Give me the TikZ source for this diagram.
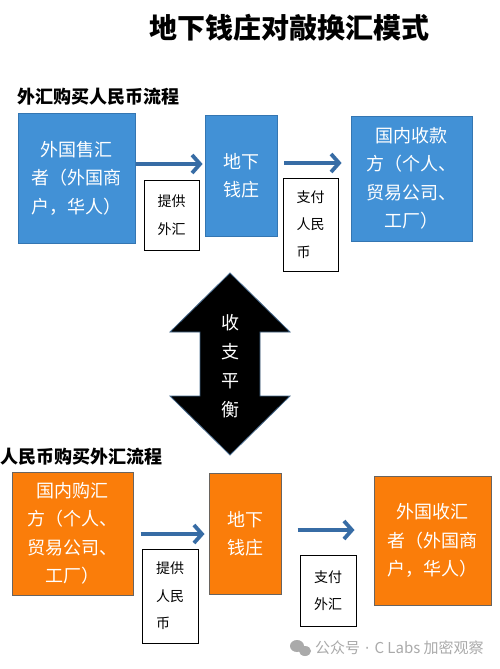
\documentclass[tikz,border=0pt]{standalone}
\usepackage{fontspec}
\setmainfont{Noto Sans CJK SC}
\newfontfamily\latinsans{DejaVu Sans}
\usetikzlibrary{arrows.meta}
\definecolor{boxblue}{RGB}{66,145,214}
\definecolor{blueedge}{RGB}{52,118,178}
\definecolor{boxorange}{RGB}{250,125,10}
\definecolor{orangeedge}{RGB}{105,100,95}
\definecolor{flowblue}{RGB}{55,108,165}
\definecolor{dbledge}{RGB}{70,105,140}
\definecolor{wmgray}{RGB}{170,170,170}
\begin{document}
\begin{tikzpicture}[x=1pt,y=1pt,
  boxtext/.style={align=center,inner sep=0pt,text=white,font=\fontsize{18}{28.5}\selectfont},
  bluebox/.style={boxtext,draw=blueedge,fill=boxblue,line width=0.8pt},
  orangebox/.style={boxtext,draw=orangeedge,fill=boxorange,line width=1pt},
  labelbox/.style={draw=black,fill=white,line width=1pt,align=left,inner sep=0pt,font=\fontsize{14}{27.5}\selectfont},
  flowarrow/.style={draw=flowblue,line width=3.8pt,-{Straight Barb[length=8pt,width=18pt]}},
  heading/.style={anchor=west,inner sep=0pt,font=\bfseries\fontsize{18}{20}\selectfont}]
\useasboundingbox (0,0) rectangle (500,-669);
\fill[white] (0,0) rectangle (500,-669);

% title
\node[inner sep=0pt,font=\bfseries\fontsize{28}{30}\selectfont] (title) at (289,-28) {地下钱庄对敲换汇模式};

% ---------- top flow ----------
\node[heading] (h1) at (17,-97) {外汇购买人民币流程};
\node[bluebox,minimum width=117pt,minimum height=130pt] (A) at (76.5,-178) {外国售汇\\者（外国商\\户，华人）};
\node[bluebox,minimum width=72pt,minimum height=121pt] (B) at (241,-175.5) {地下\\钱庄};
\node[bluebox,minimum width=121pt,minimum height=125pt] (C) at (411.5,-178.5) {国内收款\\方（个人、\\贸易公司、\\工厂）};
\node[labelbox,minimum width=55pt,minimum height=70pt] (L1) at (171.5,-215) {提供\\外汇};
\node[labelbox,minimum width=55pt,minimum height=93pt] (L2) at (310.5,-224.5) {支付\\人民\\币};
\coordinate (y1) at (0,-164);
\coordinate (y2) at (0,-163);
\draw[flowarrow,shorten <=1pt,shorten >=2pt] (A.east |- y1) -- (B.west |- y1);
\draw[flowarrow,shorten <=7pt,shorten >=9pt] (B.east |- y2) -- (C.west |- y2);

% ---------- balance arrow ----------
\draw[fill=black,draw=dbledge,line width=0.8pt,line join=miter]
  (230,-273) -- (290,-332) -- (260,-332) -- (260,-396) -- (290,-396) -- (230,-455)
  -- (170,-396) -- (200,-396) -- (200,-332) -- (170,-332) -- cycle;
\node[text=white,align=center,inner sep=0pt,font=\fontsize{18}{29}\selectfont] (bal) at (230,-366) {收\\支\\平\\衡};

% ---------- bottom flow ----------
\node[heading] (h2) at (0,-457) {人民币购买外汇流程};
\node[orangebox,minimum width=121pt,minimum height=123pt] (D) at (72.5,-533.5) {国内购汇\\方（个人、\\贸易公司、\\工厂）};
\node[orangebox,minimum width=72pt,minimum height=121pt] (E) at (245,-533.5) {地下\\钱庄};
\node[orangebox,minimum width=117pt,minimum height=129pt] (F) at (432.5,-540.5) {外国收汇\\者（外国商\\户，华人）};
\node[labelbox,minimum width=56pt,minimum height=94pt] (L3) at (170,-596) {提供\\人民\\币};
\node[labelbox,minimum width=56pt,minimum height=71pt] (L4) at (328,-590.5) {支付\\外汇};
\coordinate (y3) at (0,-534);
\coordinate (y4) at (0,-530);
\draw[flowarrow,shorten <=7pt,shorten >=4pt] (D.east |- y3) -- (E.west |- y3);
\draw[flowarrow,shorten <=16pt,shorten >=19pt] (E.east |- y4) -- (F.west |- y4);

% ---------- watermark ----------
\fill[wmgray] (297,-646) ellipse (7pt and 6pt);
\fill[wmgray] (305,-651) ellipse (6pt and 5pt);
\node[anchor=west,inner sep=0pt,text=wmgray,font=\fontsize{15}{17}\selectfont] (wm) at (315,-648) {公众号{\latinsans\ · }C Labs 加密观察};
\end{tikzpicture}
\end{document}
